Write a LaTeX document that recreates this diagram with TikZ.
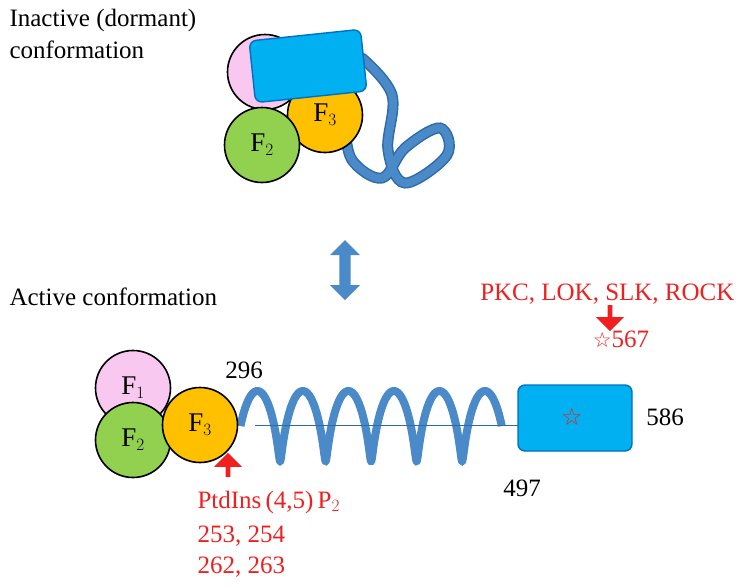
\documentclass[tikz,border=0pt]{standalone}
\usepackage{fontspec}
\setmainfont{Liberation Serif}
\newfontfamily\djv{DejaVu Sans}
\usetikzlibrary{arrows.meta,shapes.arrows}
\definecolor{pinkc}{HTML}{F8C8F0}
\definecolor{greenc}{HTML}{92D050}
\definecolor{orangec}{HTML}{FFC000}
\definecolor{boxc}{HTML}{00B0F0}
\definecolor{boxd}{HTML}{0070C0}
\definecolor{rib}{HTML}{4A8AC8}
\definecolor{ribd}{HTML}{2E6BA8}
\definecolor{redc}{HTML}{F02020}
\tikzset{
 dom/.style={circle,draw=black,line width=1.6pt,minimum size=75pt,inner sep=0pt,font=\fontsize{27}{27}\selectfont},
 bx/.style={rounded corners=7pt,draw=boxd,line width=1.4pt,fill=boxc},
 lbl/.style={font=\fontsize{25}{27}\selectfont},
 rlbl/.style={font=\fontsize{25}{27}\selectfont,text=redc},
 ribbon/.style={draw=rib,line width=8pt},
}
\begin{document}
\begin{tikzpicture}[x=1pt,y=-1pt]
\useasboundingbox (0,0) rectangle (748,587);
% top labels
\node[lbl,anchor=west] (t1) at (6,20) {Inactive (dormant)};
\node[lbl,anchor=west] (t2) at (6,50) {conformation};
% top structure
\draw[ribd,line width=11pt,line cap=round] plot[smooth,tension=0.6] coordinates {(362,58) (392,95) (388,150) (405,183) (447,155) (440,128) (405,148) (382,178) (352,160) (345,125)};
\draw[rib,line width=8pt,line cap=round] plot[smooth,tension=0.6] coordinates {(362,58) (392,95) (388,150) (405,183) (447,155) (440,128) (405,148) (382,178) (352,160) (345,125)};
\node[dom,fill=pinkc] (p1) at (265,72) {};
\node[dom,fill=orangec] (p3) at (325,115) {\raisebox{4pt}{F$_3$}};
\node[dom,fill=greenc] (p2) at (262,145) {F$_2$};
\node[bx,rotate=6,minimum width=112pt,minimum height=62pt] (pb) at (308,66) {};
\node[lbl,anchor=west] (act) at (6,297) {Active conformation};
% double arrow
\node[double arrow,fill=rib,rotate=90,minimum height=60pt,minimum width=30pt,double arrow head extend=7pt,inner sep=4pt] (da) at (345,270) {};
% bottom spring
\draw[ribbon,domain=-90:6*360-270,samples=500,variable=\t]
 plot ({246+ (\t+90)/360*45.5 + 5.5*sin(\t)},{426-35*cos(\t)});
\draw[ribd,line width=1pt] (255,425) -- (520,425);
\node[dom,fill=pinkc] (f1) at (133,388) {F$_1$};
\node[dom,fill=greenc] (f2) at (133,440) {F$_2$};
\node[dom,fill=orangec] (f3) at (200,425) {F$_3$};
\node[bx,minimum width=114pt,minimum height=66pt] (b) at (575,418) {};
\node[text=redc,font=\djv\fontsize{24}{24}\selectfont] (st) at (572,417) {☆};
\node[lbl] (n296) at (244,370) {296};
\node[lbl] (n497) at (522,488) {497};
\node[lbl] (n586) at (665,417) {586};
\node[rlbl,anchor=east] (pkc) at (738,294) {PKC, LOK, SLK, ROCK};
\node[rlbl] (n567) at (621,339) {{\djv\fontsize{21}{21}\selectfont☆}567};
\node[single arrow,fill=redc,rotate=-90,minimum height=26pt,minimum width=28pt,single arrow head extend=6pt,inner sep=1pt] (ar1) at (610,317) {};
\node[single arrow,fill=redc,rotate=90,minimum height=24pt,minimum width=28pt,single arrow head extend=6pt,inner sep=1pt] (ar2) at (228,466) {};
\node[rlbl,anchor=west] (ptd) at (194,502) {PtdIns\,(4,5)\,P$_2$};
\node[rlbl,anchor=west] (r1) at (194,536) {253, 254};
\node[rlbl,anchor=west] (r2) at (194,567) {262, 263};
\end{tikzpicture}
\end{document}
